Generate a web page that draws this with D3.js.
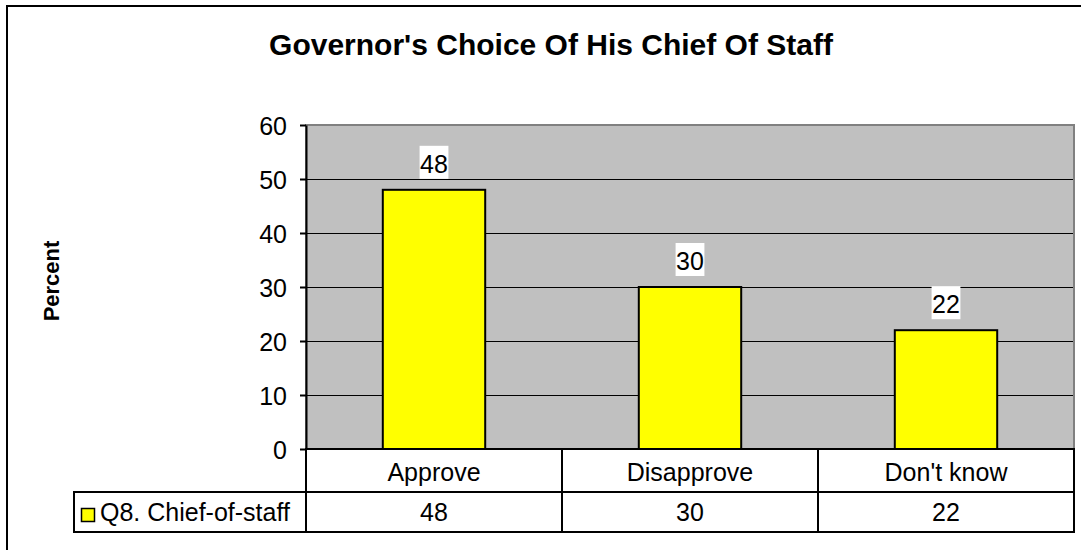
<!DOCTYPE html>
<html>
<head>
<meta charset="utf-8">
<script src="https://cdn.jsdelivr.net/npm/d3@7"></script>
<style>
  html, body { margin: 0; padding: 0; background: #fff; }
  svg { display: block; font-family: "Liberation Sans", Arial, sans-serif; }
</style>
</head>
<body>
<svg id="chart" width="1081" height="550"></svg>
<script>
const title = "Governor's Choice Of His Chief Of Staff";
const yTitle = "Percent";
const categories = ["Approve", "Disapprove", "Don't know"];
const seriesName = "Q8. Chief-of-staff";
const values = [48, 30, 22];
const yTicks = [0, 10, 20, 30, 40, 50, 60];

const svg = d3.select("#chart");
const W = 1081, H = 550;
const plot = { left: 306, right: 1074, top: 125, bottom: 449 };
const rowCat = { top: 449, bottom: 492 };
const rowData = { top: 492, bottom: 532 };
const legendLeft = 74;
const fs = 25;

svg.append("rect").attr("width", W).attr("height", H).attr("fill", "#fff");
// outer chart border (extends past right and bottom edges)
svg.append("rect").attr("x", 7).attr("y", 6).attr("width", W + 20).attr("height", H + 20)
  .attr("fill", "#fff").attr("stroke", "#000").attr("stroke-width", 2);

const x = d3.scaleBand().domain(categories).range([plot.left, plot.right]).padding(0);
const y = d3.scaleLinear().domain([0, 60]).range([plot.bottom, plot.top]);

// plot area
svg.append("rect").attr("x", plot.left).attr("y", plot.top)
  .attr("width", plot.right - plot.left).attr("height", plot.bottom - plot.top)
  .attr("fill", "#C0C0C0").attr("stroke", "#808080").attr("stroke-width", 2);

// gridlines
svg.append("g").selectAll("line").data(yTicks.filter(t => t > 0 && t < 60)).join("line")
  .attr("x1", plot.left).attr("x2", plot.right - 1)
  .attr("y1", d => Math.round(y(d)) + 0.5).attr("y2", d => Math.round(y(d)) + 0.5)
  .attr("stroke", "#000").attr("stroke-width", 1);

// bars
const bw = x.bandwidth() * 0.4;
svg.append("g").selectAll("rect").data(values).join("rect")
  .attr("x", (d, i) => x(categories[i]) + x.bandwidth() / 2 - bw / 2)
  .attr("y", d => y(d))
  .attr("width", bw)
  .attr("height", d => y(0) - y(d))
  .attr("fill", "#FFFF00").attr("stroke", "#000").attr("stroke-width", 2);

// value labels with white background
const lab = svg.append("g");
values.forEach((v, i) => {
  const cx = x(categories[i]) + x.bandwidth() / 2;
  const base = y(v) - 17;
  const t = lab.append("text").attr("x", cx).attr("y", base)
    .attr("text-anchor", "middle").attr("font-size", fs).attr("fill", "#000").text(v);
  const bb = t.node().getBBox();
  lab.insert("rect", "text").attr("x", bb.x - 0.5).attr("y", base - 27)
    .attr("width", bb.width + 1).attr("height", 33).attr("fill", "#fff");
});

// y axis
const yAxis = svg.append("g").attr("transform", `translate(${plot.left},0)`)
  .call(d3.axisLeft(y).tickValues(yTicks).tickSize(6).tickPadding(13).tickSizeOuter(0));
yAxis.select(".domain").attr("stroke", "#000").attr("stroke-width", 2);
yAxis.selectAll(".tick line").attr("stroke", "#000").attr("stroke-width", 2);
yAxis.selectAll(".tick text").attr("font-size", fs).attr("font-family", "Liberation Sans, Arial, sans-serif")
  .attr("fill", "#000").attr("dy", "0.36em");

// data table
const tbl = svg.append("g");
tbl.append("rect").attr("x", plot.left).attr("y", rowCat.top)
  .attr("width", plot.right - plot.left).attr("height", rowCat.bottom - rowCat.top)
  .attr("fill", "#fff").attr("stroke", "#000").attr("stroke-width", 2);
tbl.append("rect").attr("x", legendLeft).attr("y", rowData.top)
  .attr("width", plot.right - legendLeft).attr("height", rowData.bottom - rowData.top)
  .attr("fill", "#fff").attr("stroke", "#000").attr("stroke-width", 2);
tbl.selectAll("line.div").data(categories).join("line").attr("class", "div")
  .attr("x1", d => x(d)).attr("x2", d => x(d))
  .attr("y1", rowCat.top).attr("y2", rowData.bottom)
  .attr("stroke", "#000").attr("stroke-width", 2);
tbl.selectAll("text.cat").data(categories).join("text").attr("class", "cat")
  .attr("x", d => x(d) + x.bandwidth() / 2).attr("y", (rowCat.top + rowCat.bottom) / 2 + 10)
  .attr("text-anchor", "middle").attr("font-size", fs).text(d => d);
tbl.selectAll("text.val").data(values).join("text").attr("class", "val")
  .attr("x", (d, i) => x(categories[i]) + x.bandwidth() / 2).attr("y", (rowData.top + rowData.bottom) / 2 + 9)
  .attr("text-anchor", "middle").attr("font-size", fs).text(d => d);

// legend key
tbl.append("rect").attr("x", 81.5).attr("y", 508.5).attr("width", 13).attr("height", 13)
  .attr("fill", "#FFFF00").attr("stroke", "#000").attr("stroke-width", 1.5);
tbl.append("text").attr("x", 100).attr("y", (rowData.top + rowData.bottom) / 2 + 9)
  .attr("font-size", fs).text(seriesName);

// titles
svg.append("text").attr("x", 551).attr("y", 55).attr("text-anchor", "middle")
  .attr("font-size", 30).attr("font-weight", "bold").text(title);
svg.append("text").attr("transform", "translate(59,281) rotate(-90)")
  .attr("text-anchor", "middle").attr("font-size", 22).attr("font-weight", "bold").text(yTitle);
</script>
</body>
</html>
